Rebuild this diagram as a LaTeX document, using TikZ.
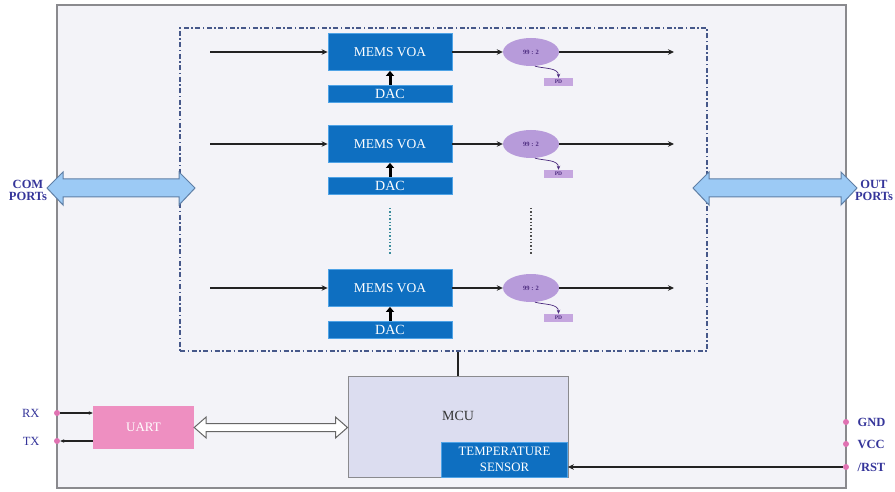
\documentclass[tikz,border=0pt]{standalone}
\usepackage{fontspec}
\setmainfont{Liberation Serif}
\usetikzlibrary{arrows.meta,calc,shapes.geometric}
\definecolor{vblue}{HTML}{0E6FC1}
\definecolor{vedge}{HTML}{4FA3E6}
\definecolor{splitc}{HTML}{B79BDA}
\definecolor{splittext}{HTML}{4B2A7E}
\definecolor{pdc}{HTML}{C5A6DF}
\definecolor{lc}{HTML}{222222}
\definecolor{bgbox}{HTML}{F3F3F8}
\definecolor{frame}{HTML}{8A8A8E}
\definecolor{ddash}{HTML}{46588A}
\definecolor{portfill}{HTML}{9CCAF5}
\definecolor{portdraw}{HTML}{5F7FA6}
\definecolor{mcuc}{HTML}{DCDDF0}
\definecolor{uartc}{HTML}{EE8FC1}
\definecolor{pinc}{HTML}{E072B2}
\definecolor{labc}{HTML}{35359A}
\definecolor{tealdot}{HTML}{3A8C9C}
\tikzset{
  voa/.style={rectangle, fill=vblue, draw=vedge, line width=0.8pt, minimum width=124pt, minimum height=37pt, inner sep=0pt, text=white, font=\fontsize{13.5}{15}\selectfont},
  dacbox/.style={rectangle, fill=vblue, draw=vedge, line width=0.8pt, minimum width=124pt, minimum height=17pt, inner sep=0pt, text=white, font=\fontsize{14}{15}\selectfont},
  splitter/.style={ellipse, fill=splitc, minimum width=56pt, minimum height=28pt, inner sep=0pt, text=splittext, font=\fontsize{6.5}{7}\selectfont\bfseries},
  pdbox/.style={rectangle, fill=pdc, minimum width=29pt, minimum height=8pt, inner sep=0pt, text=splittext, font=\fontsize{5.5}{6}\selectfont\bfseries},
  sig/.style={line width=1.6pt, draw=lc, -{Stealth[length=6pt,width=5.5pt]}},
  thin sig/.style={line width=0.8pt, draw=lc, -{Stealth[length=4pt,width=3.5pt]}},
  dacarrow/.style={line width=3pt, draw=black, -{Triangle[length=5pt,width=8pt]}},
  pin/.style={circle, fill=pinc, minimum size=6pt, inner sep=0pt},
  lab/.style={text=labc, font=\fontsize{12.5}{13}\selectfont\bfseries},
  portarrow/.style={fill=portfill, draw=portdraw, line width=1pt},
}
\begin{document}
\begin{tikzpicture}[x=1pt,y=-1pt]
\useasboundingbox (0,0) rectangle (895,492);
% outer module
\path[fill=bgbox, draw=frame, line width=1.4pt] (57,5) rectangle (846,488);
% channel array box
\node[draw=ddash, dash pattern=on 5pt off 2.5pt on 1.5pt off 2.5pt, line width=1.3pt, minimum width=527pt, minimum height=323pt, inner sep=0pt] (array) at (443.5,189.5) {};
% channels
\foreach \r/\y in {1/52, 2/144, 3/288} {
  \node[voa] (voa\r) at (390,\y) {MEMS VOA};
  \node[dacbox] (dac\r) at (390,\y+42) {DAC};
  \node[splitter] (sp\r) at (531,\y) {99 : 2};
  \node[pdbox] (pd\r) at (558.5,\y+30) {PD};
  \coordinate (in\r) at (210,\y);
  \coordinate (out\r) at (674,\y);
  \draw[sig] (in\r) -- (voa\r.west);
  \draw[sig] (voa\r.east) -- (sp\r.west);
  \draw[sig] (sp\r.east) -- (out\r);
  \draw[dacarrow] (dac\r.north) -- (voa\r.south);
  \draw[thin sig, draw=splittext, line width=0.7pt] ($(sp\r.south)+(4,0)$) to[out=-15,in=90] (pd\r.north);
}
% continuation dots
\draw[tealdot, line width=1.4pt, dotted] (390,208) -- (390,255);
\draw[gray!60!black, line width=1.4pt, dotted] (531,208) -- (531,255);
% port arrows
\path[portarrow] (47,188) -- (63,172) -- (63,179) -- (179,179) -- (179,172) -- (195,188) -- (179,205) -- (179,197) -- (63,197) -- (63,205) -- cycle;
\path[portarrow] (693,188) -- (709,172) -- (709,179) -- (841,179) -- (841,172) -- (857,188) -- (841,205) -- (841,197) -- (709,197) -- (709,205) -- cycle;
\node[lab, align=center] (com) at (28,190) {COM\\[-1pt]PORTs};
\node[lab, align=center] (outp) at (874,190) {OUT\\[-1pt]PORTs};
% MCU
\node[rectangle, fill=mcuc, draw=frame, line width=1pt, minimum width=220pt, minimum height=101pt, inner sep=0pt] (mcu) at (458,426.5) {};
\node[font=\fontsize{14}{15}\selectfont, text=black!80] (mculab) at (458,416) {MCU};
\node[rectangle, fill=vblue, draw=vedge, line width=0.8pt, minimum width=126pt, minimum height=35pt, inner sep=0pt, text=white, align=center, font=\fontsize{12.8}{15.5}\selectfont] (ts) at (504.5,459.5) {TEMPERATURE\\SENSOR};
\draw[line width=1.6pt, draw=lc] (mcu.north) -- (mcu.north |- array.south);
% UART
\node[rectangle, fill=uartc, minimum width=101pt, minimum height=43pt, inner sep=0pt, text=white, font=\fontsize{13}{14}\selectfont] (uart) at (143.5,427.5) {UART};
\path[fill=white, draw=gray!80!black, line width=1pt]
  (uart.east) -- ($(uart.east)+(12,-10.5)$) -- ($(uart.east)+(12,-4)$) -- ($(mcu.west |- uart.east)+(-12,-4)$) -- ($(mcu.west |- uart.east)+(-12,-10.5)$) -- (mcu.west |- uart.east)
  -- ($(mcu.west |- uart.east)+(-12,10.5)$) -- ($(mcu.west |- uart.east)+(-12,4)$) -- ($(uart.east)+(12,4)$) -- ($(uart.east)+(12,10.5)$) -- cycle;
% pins left
\node[pin] (rx) at (57,413) {};
\node[pin] (tx) at (57,441) {};
\node[lab, font=\fontsize{12.5}{13}\selectfont, anchor=east] (rxl) at (43,413) {RX};
\node[lab, font=\fontsize{12.5}{13}\selectfont, anchor=east] (txl) at (43,441) {TX};
\draw[thin sig, line width=1.2pt] (rx) -- (rx -| uart.west);
\draw[thin sig, line width=1.2pt] (tx -| uart.west) -- (tx);
% pins right
\node[pin] (gnd) at (846,422) {};
\node[pin] (vcc) at (846,444) {};
\node[pin] (rst) at (846,467) {};
\node[lab, anchor=west] (gndl) at (854,422) {GND};
\node[lab, anchor=west] (vccl) at (854,444) {VCC};
\node[lab, anchor=west] (rstl) at (854,467) {/RST};
\draw[sig] (rst) -- (rst -| ts.east);
\end{tikzpicture}
\end{document}
